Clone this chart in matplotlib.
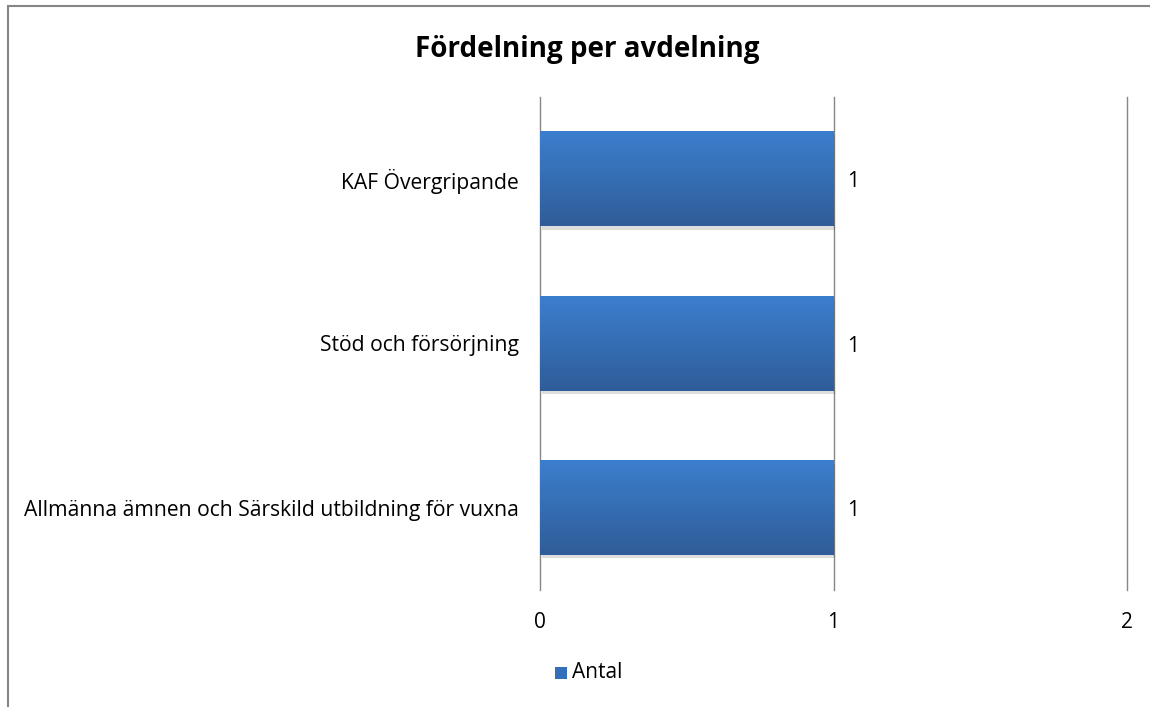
import matplotlib.pyplot as plt
import numpy as np
from matplotlib.patches import Rectangle
from matplotlib.colors import LinearSegmentedColormap

categories = ["Allmänna ämnen och Särskild utbildning för vuxna",
              "Stöd och försörjning",
              "KAF Övergripande"]
antal = [1, 1, 1]
xticks = [0, 1, 2]

plt.rcParams['font.family'] = ['Open Sans', 'DejaVu Sans']

W, H = 1150, 707
fig = plt.figure(figsize=(W / 100, H / 100), dpi=100)
ax = fig.add_axes([540 / W, 1 - 590 / H, (1127 - 540) / W, (590 - 97) / H])

# frame around the chart area
fig.patches.append(Rectangle((8 / W, -0.1), 1.2, 1 - 6 / H + 0.1, transform=fig.transFigure,
                             fill=False, edgecolor='#868686', linewidth=1.5))

y = np.arange(len(categories))
bars = ax.barh(y, antal, height=0.576, color='none', zorder=3)

grad = np.linspace(0, 1, 100).reshape(-1, 1)
cmap = LinearSegmentedColormap.from_list('g', ['#3C7ECE', '#2F5D99'])
for b, v in zip(bars, antal):
    x0, y0 = b.get_x(), b.get_y()
    w, h = b.get_width(), b.get_height()
    # soft shadow
    ax.add_patch(Rectangle((x0 + 0.006, y0 - 0.02), w, h, facecolor='#000000', alpha=0.13,
                           edgecolor='none', zorder=2))
    ax.imshow(grad, extent=[x0, x0 + w, y0, y0 + h], origin='upper', cmap=cmap,
              aspect='auto', zorder=3)
    ax.text(x0 + w + 0.045, y0 + h / 2, str(v), va='center_baseline', ha='left', fontsize=15)

ax.set_xlim(0, 2)
ax.set_ylim(-0.5, len(categories) - 0.5)
ax.set_xticks(xticks)
ax.set_xticklabels([str(t) for t in xticks], fontsize=15)
ax.set_yticks(y)
ax.set_yticklabels(categories, fontsize=15.2, va='center_baseline')
ax.tick_params(axis='y', length=0, pad=15)
ax.tick_params(axis='x', length=0, pad=16)
for t in xticks:
    ax.axvline(t, color='#868686', linewidth=1, zorder=1, clip_on=False)
for s in ax.spines.values():
    s.set_visible(False)

fig.text(587 / W, 1 - 50 / H, "Fördelning per avdelning", ha='center', va='center',
         fontsize=20, fontweight='bold')

# legend
fig.patches.append(Rectangle((555 / W, 1 - 679 / H), 12 / W, 12 / H, transform=fig.transFigure,
                             facecolor='#3470BA', edgecolor='none'))
fig.text(572 / W, 1 - 672 / H, "Antal", ha='left', va='center', fontsize=15)

fig.savefig('out.png', dpi=100, facecolor='white')
